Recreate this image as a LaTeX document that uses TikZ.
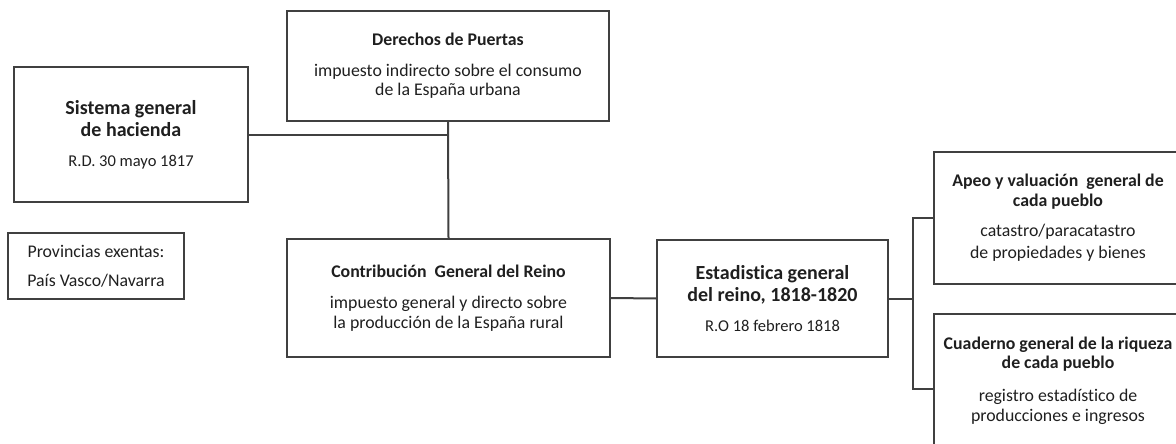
\documentclass[tikz,border=0pt]{standalone}
\usepackage{fontspec}
\setmainfont{Carlito}[Ligatures={NoCommon}]
\definecolor{ln}{HTML}{404040}
\definecolor{tx}{HTML}{1F1F1F}
\tikzset{
  box/.style={draw=ln, line width=2pt, rectangle, inner sep=0pt, align=center,
    text=tx, font=\fontsize{17.8}{20}\selectfont},
  conn/.style={draw=ln, line width=2pt},
}
\newcommand\bigt[1]{{\fontsize{20}{22}\selectfont\bfseries #1}}
\newcommand\smt[1]{{\fontsize{16.5}{20}\selectfont #1}}
\newcommand\bt[1]{{\bfseries #1}}
\begin{document}
\begin{tikzpicture}[x=1pt,y=-1pt]
\useasboundingbox (0,0) rectangle (1176,444);
\clip (0,0) rectangle (1176,444);

\node[box, minimum width=234pt, minimum height=135pt] (sist) at (131,134.5)
  {\bigt{Sistema general}\\[2pt]\bigt{de hacienda}\\[10pt]\smt{R.D. 30 mayo 1817}};

\node[box, minimum width=322pt, minimum height=110pt] (der) at (448,66)
  {\bt{Derechos de Puertas}\\[11pt]impuesto indirecto sobre el consumo\\[-1pt]de la España urbana};

\node[box, minimum width=176pt, minimum height=66pt] (prov) at (96,266)
  {Provincias exentas:\\[9pt]País Vasco/Navarra};

\node[box, minimum width=323pt, minimum height=118pt] (contr) at (448.5,298)
  {\bt{Contribución\ \ General del Reino}\\[11pt]impuesto general y directo sobre\\la producción de la España rural};

\node[box, minimum width=231pt, minimum height=117pt] (est) at (772.5,298.5)
  {\bigt{Estadistica general}\\[2pt]\bigt{del reino, 1818-1820}\\[10pt]\smt{R.O 18 febrero 1818}};

\node[box, minimum width=248pt, minimum height=132pt] (apeo) at (1058,218)
  {\bt{Apeo y valuación\ \ general de}\\\bt{cada pueblo}\\[10pt]catastro/paracatastro\\[2pt]de propiedades y bienes};

\node[box, minimum width=248pt, minimum height=134pt] (cuad) at (1058,381)
  {\bt{Cuaderno general de la riqueza}\\[-1pt]\bt{de cada pueblo}\\[13pt]registro estadístico de\\producciones e ingresos};

\draw[conn] (sist.east) -- (sist.east -| der.south);
\draw[conn] (der.south) -- (contr.north);
\draw[conn] (contr.east) -- (est.west);
\draw[conn] (est.east) -- ++(24,0) coordinate (br);
\coordinate (cuadin) at ([yshift=-8pt]cuad.west);
\draw[conn] (apeo.west) -- (br |- apeo.west) -- (br |- cuadin) -- (cuadin);
\end{tikzpicture}
\end{document}
